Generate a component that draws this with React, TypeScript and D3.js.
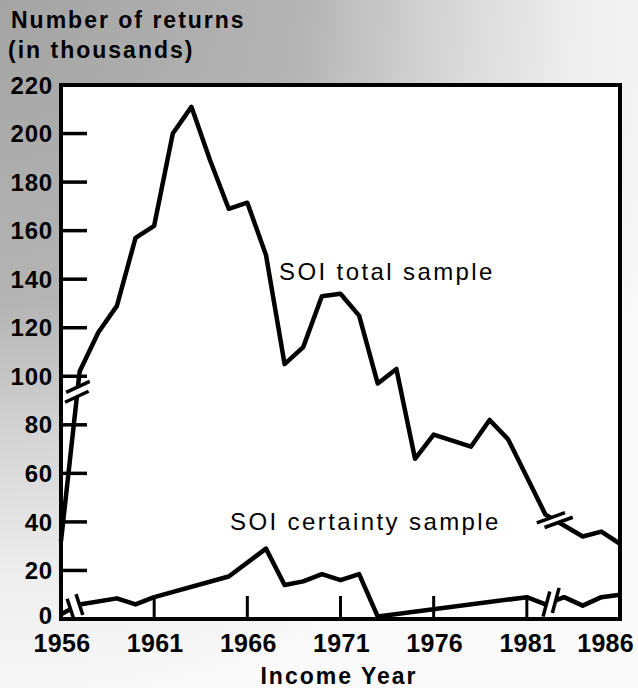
import React from 'react';
import * as d3 from 'd3';

// ---- data ----
const totalYears = [1956, 1957, 1958, 1959, 1960, 1961, 1962, 1963, 1964, 1965, 1966, 1967, 1968, 1969, 1970, 1971, 1972, 1973, 1974, 1975, 1976, 1978, 1979, 1980, 1982, 1983, 1984, 1985, 1986];
const totalValues = [32, 102, 118, 129, 157, 162, 200, 211, 189, 169, 171.5, 150, 105, 112, 133, 134, 125, 97, 103, 66, 76, 71, 82, 74, 43, 38.5, 34, 36, 31];

const certaintyYears = [1956, 1957, 1959, 1960, 1961, 1965, 1967, 1968, 1969, 1970, 1971, 1972, 1973, 1981, 1982, 1983, 1984, 1985, 1986];
const certaintyValues = [2, 6, 8.5, 6, 9, 17.5, 29, 14, 15.5, 18.5, 16, 18.5, 1, 9, 6, 9, 5.5, 9, 10];

const yTickValues = [0, 20, 40, 60, 80, 100, 120, 140, 160, 180, 200, 220];
const xTickYears = [1956, 1961, 1966, 1971, 1976, 1981, 1986];

const titleLines = ['Number of returns', '(in thousands)'];
const xAxisTitle = 'Income Year';
const totalLabel = 'SOI total sample';
const certaintyLabel = 'SOI certainty sample';

// break-symbol placements (in data years along each series)
const breakYearsTotal = [1956.88, 1982.5];
const breakYearsCert = [1956.75, 1982.3];

const FONT = "'Liberation Sans', Arial, Helvetica, sans-serif";

export default function App() {
  const W = 638;
  const H = 688;
  const x = d3.scaleLinear().domain([1956, 1986]).range([61, 620]);
  const y = d3.scaleLinear().domain([0, 220]).range([619, 85]);

  const total = totalYears.map((yr, i) => ({ yr, v: totalValues[i] }));
  const cert = certaintyYears.map((yr, i) => ({ yr, v: certaintyValues[i] }));

  const line = d3
    .line<{ yr: number; v: number }>()
    .x((d) => x(d.yr))
    .y((d) => y(d.v));

  const pointOn = (series: { yr: number; v: number }[], yr: number) => {
    const i = d3.bisector((d: { yr: number }) => d.yr).right(series, yr) - 1;
    const a = series[i];
    const b = series[i + 1];
    const t = (yr - a.yr) / (b.yr - a.yr);
    const ax = x(a.yr), ay = y(a.v), bx = x(b.yr), by = y(b.v);
    const len = Math.hypot(bx - ax, by - ay);
    return {
      cx: ax + t * (bx - ax),
      cy: ay + t * (by - ay),
      dx: (bx - ax) / len,
      dy: (by - ay) / len,
    };
  };

  const breakSpecs = [
    { ...pointOn(total, breakYearsTotal[0]), angle: -25, len: 26, gap: 10 },
    { ...pointOn(total, breakYearsTotal[1]), angle: -20, len: 30, gap: 9 },
    { ...pointOn(cert, breakYearsCert[0]), angle: 72, len: 22, gap: 10 },
    { ...pointOn(cert, breakYearsCert[1]), angle: -75, len: 26, gap: 10 },
  ];

  const renderBreak = (b: any, k: number) => {
    const ux = Math.cos((b.angle * Math.PI) / 180);
    const uy = Math.sin((b.angle * Math.PI) / 180);
    const g = b.gap / 2;
    const w = 7;
    const c1 = { x: b.cx - b.dx * g, y: b.cy - b.dy * g };
    const c2 = { x: b.cx + b.dx * g, y: b.cy + b.dy * g };
    const poly = [
      [c1.x - ux * w, c1.y - uy * w],
      [c1.x + ux * w, c1.y + uy * w],
      [c2.x + ux * w, c2.y + uy * w],
      [c2.x - ux * w, c2.y - uy * w],
    ]
      .map((p) => p.join(','))
      .join(' ');
    const h = b.len / 2;
    return (
      <g key={k}>
        <polygon points={poly} fill="#fff" />
        {[c1, c2].map((c, j) => (
          <line
            key={j}
            x1={c.x - ux * h}
            y1={c.y - uy * h}
            x2={c.x + ux * h}
            y2={c.y + uy * h}
            stroke="#000"
            strokeWidth={3.5}
          />
        ))}
      </g>
    );
  };

  const x0 = x(1956), x1 = x(1986), y0 = y(0), y1 = y(220);

  return (
    <svg
      width={W}
      height={H}
      viewBox={`0 0 ${W} ${H}`}
      style={{ position: 'absolute', left: 0, top: 0, background: '#fff' }}
    >
      <defs>
        <radialGradient id="bg" cx="0" cy="0" r="720" gradientUnits="userSpaceOnUse">
          <stop offset="0" stopColor="#a4a4a4" />
          <stop offset="0.42" stopColor="#b4b4b4" />
          <stop offset="0.62" stopColor="#d6d6d6" />
          <stop offset="0.8" stopColor="#eeeeee" />
          <stop offset="1" stopColor="#fafafa" />
        </radialGradient>
      </defs>
      <rect x={0} y={0} width={W} height={H} fill="url(#bg)" />

      {/* plot area */}
      <rect x={x0} y={y1} width={x1 - x0} height={y0 - y1} fill="#fff" />

      {/* data lines */}
      <path d={line(total) || ''} fill="none" stroke="#000" strokeWidth={4.5} strokeLinejoin="round" />
      <path d={line(cert) || ''} fill="none" stroke="#000" strokeWidth={4.5} strokeLinejoin="round" />

      {breakSpecs.map(renderBreak)}

      {/* frame */}
      <rect x={x0} y={y1} width={x1 - x0} height={y0 - y1} fill="none" stroke="#000" strokeWidth={4} />

      {/* y ticks */}
      {yTickValues
        .filter((v) => v !== 0 && v !== 220)
        .map((v) => (
          <line key={v} x1={x0} x2={x0 + 26} y1={y(v)} y2={y(v)} stroke="#000" strokeWidth={3.5} />
        ))}
      {/* x ticks */}
      {xTickYears
        .filter((yr) => yr !== 1956 && yr !== 1986)
        .map((yr) => (
          <line key={yr} x1={x(yr)} x2={x(yr)} y1={y0} y2={y0 - 23} stroke="#000" strokeWidth={3} />
        ))}

      {/* y labels */}
      <g fontFamily={FONT} fontWeight="bold" fontSize={24} fill="#000" letterSpacing={0.8}>
        {yTickValues.map((v) => (
          <text key={v} x={53} y={y(v) - (v === 0 ? 4 : 0)} dy="0.36em" textAnchor="end">
            {v}
          </text>
        ))}
      </g>

      {/* x labels */}
      <g fontFamily={FONT} fontWeight="bold" fontSize={25} fill="#000" letterSpacing={0.3}>
        {xTickYears.map((yr, i) => (
          <text
            key={yr}
            x={i === xTickYears.length - 1 ? 634 : x(yr) + 1}
            y={652}
            textAnchor={i === xTickYears.length - 1 ? 'end' : 'middle'}
          >
            {yr}
          </text>
        ))}
      </g>

      {/* titles */}
      <g fontFamily={FONT} fontWeight="bold" fontSize={23} fill="#000" letterSpacing={2}>
        <text x={11} y={28}>{titleLines[0]}</text>
        <text x={8} y={58}>{titleLines[1]}</text>
      </g>
      <text
        x={339}
        y={684}
        textAnchor="middle"
        fontFamily={FONT}
        fontWeight="bold"
        fontSize={23}
        letterSpacing={2}
      >
        {xAxisTitle}
      </text>

      {/* series labels */}
      <g fontFamily={FONT} fontSize={24} fill="#000" letterSpacing={2.4}>
        <text x={279} y={280}>{totalLabel}</text>
        <text x={230} y={530}>{certaintyLabel}</text>
      </g>
    </svg>
  );
}
